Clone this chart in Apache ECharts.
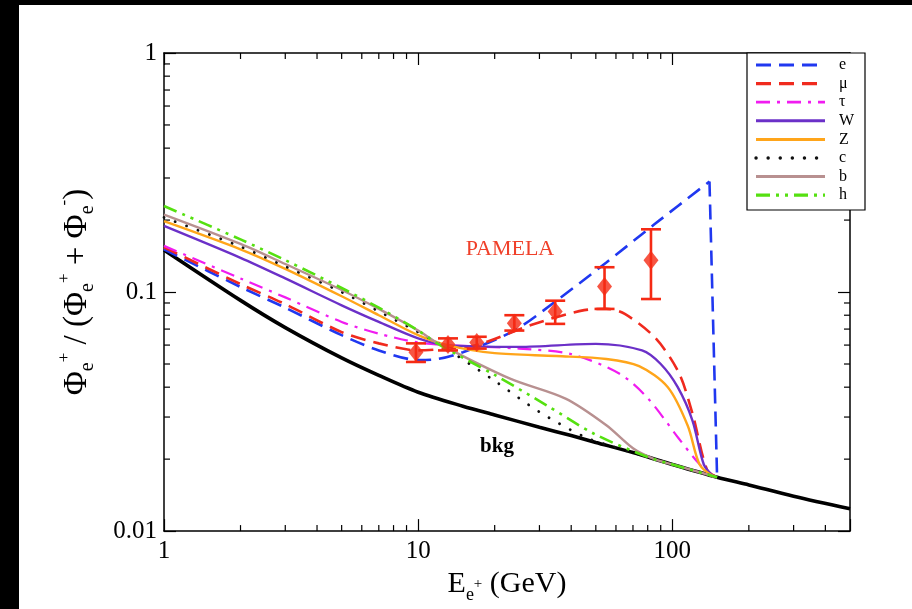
<!DOCTYPE html>
<html>
<head>
<meta charset="utf-8">
<script src="https://cdn.jsdelivr.net/npm/echarts@6/dist/echarts.min.js"></script>
<style>
  html, body { margin: 0; padding: 0; background: #000; }
  #chart { width: 912px; height: 609px; }
</style>
</head>
<body>
<div id="chart"></div>
<script>
// positron fraction vs energy (GeV)

const bkgX = [1, 2, 3, 5, 7, 10, 15, 20, 30, 40, 50, 70, 100, 150, 200, 300, 500];
const bkgY = [0.150, 0.0923, 0.071, 0.053, 0.0448, 0.0381, 0.0333, 0.0306, 0.0272, 0.0251, 0.0235, 0.0213, 0.0190, 0.0168, 0.0156, 0.014, 0.0124];

// e rises to the kinematic edge, then drops straight down
const eX = [1, 2, 3, 5, 7, 10, 12, 15, 20, 25, 35, 55, 85, 140];
const eY = [0.151, 0.105, 0.086, 0.066, 0.057, 0.052, 0.0525, 0.056, 0.063, 0.071, 0.092, 0.133, 0.192, 0.29];
const eDropX = [140, 150];
const eDropY = [0.29, 0.0168];

const muX = [1, 2, 3, 5, 7, 10, 13, 17, 28, 45, 55, 65, 86, 106, 120, 137, 150];
const muY = [0.154, 0.108, 0.089, 0.068, 0.061, 0.057, 0.058, 0.060, 0.073, 0.084, 0.085, 0.081, 0.064, 0.046, 0.031, 0.018, 0.0168];

const tauX = [1, 2, 3, 5, 7, 10, 13, 25, 40, 62, 80, 106, 127, 145];
const tauY = [0.156, 0.114, 0.095, 0.075, 0.067, 0.0615, 0.060, 0.058, 0.055, 0.0455, 0.036, 0.0244, 0.0192, 0.0169];

const wX = [1, 2, 3, 5, 7, 10, 13, 25, 50, 76, 90, 105, 120, 133, 145];
const wY = [0.189, 0.139, 0.114, 0.088, 0.075, 0.064, 0.060, 0.059, 0.0607, 0.057, 0.050, 0.040, 0.029, 0.019, 0.0169];

const zX = [1, 2, 3, 5, 7, 10, 13, 20, 35, 55, 74, 96, 115, 128, 145];
const zY = [0.198, 0.151, 0.125, 0.096, 0.080, 0.066, 0.060, 0.0555, 0.054, 0.0525, 0.049, 0.040, 0.0276, 0.019, 0.0169];

const cX = [1, 2, 3, 5, 7, 10, 12, 20, 30, 45, 55, 70, 100, 150];
const cY = [0.205, 0.155, 0.128, 0.100, 0.083, 0.068, 0.061, 0.0425, 0.0315, 0.0248, 0.023, 0.0213, 0.019, 0.0168];

const bX = [1, 2, 3, 5, 7, 10, 12, 23, 38, 55, 70, 84, 100, 150];
const bY = [0.211, 0.159, 0.131, 0.102, 0.085, 0.069, 0.061, 0.0434, 0.0358, 0.0277, 0.0222, 0.0201, 0.019, 0.0168];

const hX = [1, 2, 3, 5, 7, 10, 12, 20, 32, 49, 79, 100, 150];
const hY = [0.229, 0.166, 0.136, 0.104, 0.086, 0.069, 0.0605, 0.045, 0.0336, 0.0256, 0.0205, 0.019, 0.0168];

// PAMELA points with error bars
const pamX = [9.8, 13.1, 17.0, 23.9, 34.6, 54.1, 82.4];
const pamY = [0.056, 0.0604, 0.0615, 0.0741, 0.0829, 0.1055, 0.136];
const pamLo = [0.051, 0.057, 0.058, 0.069, 0.0736, 0.085, 0.0935];
const pamHi = [0.061, 0.064, 0.065, 0.080, 0.092, 0.127, 0.183];

// axis ranges and minor ticks
const xMin = 1, xMax = 500;
const yMin = 0.01, yMax = 1;
const minorX = [2, 3, 4, 5, 6, 7, 8, 9, 20, 30, 40, 50, 60, 70, 80, 90, 200, 300, 400];
const minorY = [0.02, 0.03, 0.04, 0.05, 0.06, 0.07, 0.08, 0.09, 0.2, 0.3, 0.4, 0.5, 0.6, 0.7, 0.8, 0.9];

const serif = '"Liberation Serif", "DejaVu Serif", serif';
const pairs = (xs, ys) => xs.map((x, i) => [x, ys[i]]);

const curves = [
  { name: 'e', xs: eX, ys: eY, color: '#2038f0', dash: [15, 8], width: 2.6, cap: 'butt' },
  { name: 'μ', xs: muX, ys: muY, color: '#f02a1e', dash: [15, 8], width: 2.6, cap: 'butt' },
  { name: 'τ', xs: tauX, ys: tauY, color: '#f01cf0', dash: [14, 7, 3, 7], width: 2.2, cap: 'butt' },
  { name: 'W', xs: wX, ys: wY, color: '#6b30c8', dash: 'solid', width: 2.4, cap: 'butt' },
  { name: 'Z', xs: zX, ys: zY, color: '#ffa51a', dash: 'solid', width: 2.4, cap: 'butt' },
  { name: 'c', xs: cX, ys: cY, color: '#111111', dash: [0.1, 12], width: 2.8, cap: 'round' },
  { name: 'b', xs: bX, ys: bY, color: '#b89090', dash: 'solid', width: 2.4, cap: 'butt' },
  { name: 'h', xs: hX, ys: hY, color: '#55e010', dash: [14, 6, 3, 6, 3, 6], width: 2.6, cap: 'butt' }
];

const chart = echarts.init(document.getElementById('chart'));

const tickLine = { stroke: '#000', lineWidth: 1.2 };

function decadeLabel(v) {
  const l = Math.log10(v);
  return Math.abs(l - Math.round(l)) < 1e-6 ? String(+v.toPrecision(3)) : '';
}

const logX = {
  type: 'log', min: xMin, max: xMax,
  axisLine: { lineStyle: { color: '#000', width: 1.5 } },
  axisTick: { inside: true, length: 12, lineStyle: { color: '#000', width: 1.2 } },
  splitLine: { show: false }
};
const logY = {
  type: 'log', min: yMin, max: yMax,
  axisLine: { lineStyle: { color: '#000', width: 1.5 } },
  axisTick: { inside: true, length: 12, lineStyle: { color: '#000', width: 1.2 } },
  splitLine: { show: false }
};

const series = [];

series.push({
  name: 'bkg', type: 'line', data: pairs(bkgX, bkgY),
  smooth: 0.3, symbol: 'none', silent: true,
  lineStyle: { color: '#000', width: 3.6 }
});

curves.forEach(c => {
  series.push({
    name: c.name, type: 'line', data: pairs(c.xs, c.ys),
    smooth: 0.3, symbol: 'none', silent: true,
    lineStyle: { color: c.color, width: c.width, type: c.dash, cap: c.cap }
  });
});

// the e spectrum's sharp cut-off
series.push({
  name: 'e', type: 'line', data: pairs(eDropX, eDropY),
  symbol: 'none', silent: true,
  lineStyle: { color: curves[0].color, width: curves[0].width, type: curves[0].dash }
});

series.push({
  name: 'PAMELA err', type: 'custom', silent: true,
  data: pamX.map((x, i) => [x, pamLo[i], pamHi[i]]),
  encode: { x: 0, y: [1, 2] },
  renderItem: (params, api) => {
    const x = api.value(0);
    const lo = api.coord([x, api.value(1)]);
    const hi = api.coord([x, api.value(2)]);
    const st = { stroke: '#f52a14', lineWidth: 2.6 };
    return {
      type: 'group',
      children: [
        { type: 'line', shape: { x1: lo[0], y1: lo[1], x2: hi[0], y2: hi[1] }, style: st },
        { type: 'line', shape: { x1: lo[0] - 10, y1: lo[1], x2: lo[0] + 10, y2: lo[1] }, style: st },
        { type: 'line', shape: { x1: hi[0] - 10, y1: hi[1], x2: hi[0] + 10, y2: hi[1] }, style: st }
      ]
    };
  },
  z: 5
});

series.push({
  name: 'PAMELA', type: 'scatter', data: pairs(pamX, pamY),
  symbol: 'diamond', symbolSize: [15, 19],
  itemStyle: { color: '#f52a14' }, z: 6, silent: true
});

// minor ticks on all four sides, placed through the axis scales
series.push({
  type: 'custom', silent: true,
  data: minorX.map(v => [v, yMin]),
  renderItem: (params, api) => {
    const v = api.value(0);
    const b = api.coord([v, yMin]);
    const t = api.coord([v, yMax]);
    return {
      type: 'group',
      children: [
        { type: 'line', shape: { x1: b[0], y1: b[1], x2: b[0], y2: b[1] - 6 }, style: tickLine },
        { type: 'line', shape: { x1: t[0], y1: t[1], x2: t[0], y2: t[1] + 6 }, style: tickLine }
      ]
    };
  }
});
series.push({
  type: 'custom', silent: true,
  data: minorY.map(v => [xMin, v]),
  renderItem: (params, api) => {
    const v = api.value(1);
    const l = api.coord([xMin, v]);
    const r = api.coord([xMax, v]);
    return {
      type: 'group',
      children: [
        { type: 'line', shape: { x1: l[0], y1: l[1], x2: l[0] + 6, y2: l[1] }, style: tickLine },
        { type: 'line', shape: { x1: r[0], y1: r[1], x2: r[0] - 6, y2: r[1] }, style: tickLine }
      ]
    };
  }
});

// legend box drawn by hand so the line samples keep their dash patterns
const legendItems = [];
legendItems.push({
  type: 'rect', z: 50,
  shape: { x: 747, y: 53, width: 118, height: 157 },
  style: { fill: '#fff', stroke: '#000', lineWidth: 1.2 }
});
curves.forEach((c, i) => {
  const y = 65 + i * 18.6;
  legendItems.push({
    type: 'line', z: 51,
    shape: { x1: 756, y1: y, x2: 825, y2: y },
    style: { stroke: c.color, lineWidth: c.width + 0.6, lineDash: c.dash === 'solid' ? null : c.dash, lineCap: c.cap }
  });
  legendItems.push({
    type: 'text', z: 51, x: 839, y: y,
    style: { text: c.name, font: '16px ' + serif, fill: '#000', align: 'left', verticalAlign: 'middle' }
  });
});

const option = {
  animation: false,
  backgroundColor: '#000',
  graphic: [
    { type: 'rect', z: -100, shape: { x: 19, y: 5, width: 893, height: 604 }, style: { fill: '#fff' } },
    { type: 'text', x: 510, y: 249, style: { text: 'PAMELA', font: '22px ' + serif, fill: '#f0402a', align: 'center', verticalAlign: 'middle' } },
    { type: 'text', x: 497, y: 447, style: { text: 'bkg', font: 'bold 21px ' + serif, fill: '#000', align: 'center', verticalAlign: 'middle' } }
  ].concat(legendItems),
  grid: { left: 164, right: 62, top: 53, bottom: 76, containLabel: false },
  xAxis: [
    Object.assign({}, logX, {
      position: 'bottom',
      axisLabel: { fontFamily: serif, fontSize: 25, color: '#000', margin: 8, formatter: decadeLabel },
      name: '{m|E}{s|e}{p|+}{m| (GeV)}',
      nameLocation: 'middle', nameGap: 30,
      nameTextStyle: {
        color: '#000',
        rich: {
          m: { fontFamily: serif, fontSize: 30, lineHeight: 40, color: '#000' },
          s: { fontFamily: serif, fontSize: 18, lineHeight: 18, verticalAlign: 'bottom', color: '#000' },
          p: { fontFamily: serif, fontSize: 15, lineHeight: 15, verticalAlign: 'middle', color: '#000' }
        }
      }
    }),
    Object.assign({}, logX, { position: 'top', axisLabel: { show: false } })
  ],
  yAxis: [
    Object.assign({}, logY, {
      position: 'left',
      axisLabel: { fontFamily: serif, fontSize: 25, color: '#000', margin: 7, formatter: decadeLabel },
      name: '{m|Φ}{s|e}{p|+}{m| / (Φ}{s|e}{p|+}{m| + Φ}{s|e}{p|-}{m|)}',
      nameLocation: 'middle', nameGap: 66,
      nameTextStyle: {
        color: '#000',
        rich: {
          m: { fontFamily: serif, fontSize: 33, lineHeight: 42, color: '#000' },
          s: { fontFamily: serif, fontSize: 20, lineHeight: 20, verticalAlign: 'bottom', color: '#000' },
          p: { fontFamily: serif, fontSize: 17, lineHeight: 17, verticalAlign: 'top', color: '#000' }
        }
      }
    }),
    Object.assign({}, logY, { position: 'right', axisLabel: { show: false } })
  ],
  series: series
};

chart.setOption(option);
</script>
</body>
</html>
